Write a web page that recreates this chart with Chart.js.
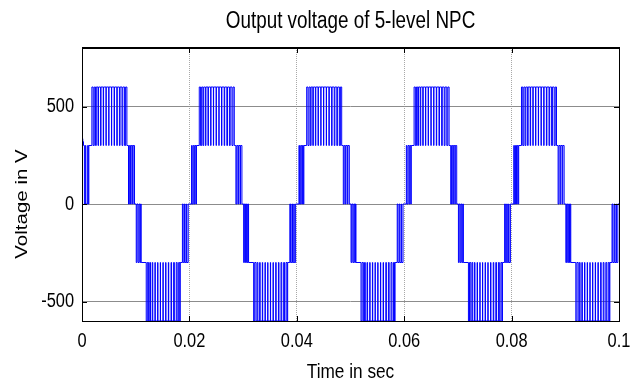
<!DOCTYPE html>
<html>
<head>
<meta charset="utf-8">
<script src="https://cdn.jsdelivr.net/npm/chart.js@4/dist/chart.umd.min.js"></script>
<style>
  html, body { margin: 0; padding: 0; background: #fff; }
  #wrap { width: 630px; height: 387px; }
</style>
</head>
<body>
<div id="wrap"><canvas id="c" width="630" height="387"></canvas></div>
<script>
// Start time of each 50 Hz period (s)
const cycleStarts = [0, 0.02, 0.04, 0.06, 0.08];

// Switching instants inside one period (ms from period start) and the level after each one (V)
const periodTimesMs = [
  0.00, 0.40, 0.52, 0.72, 0.92, 1.05, 1.22, 1.32,
  1.84, 2.08, 2.28, 2.52, 2.66, 2.98, 3.08, 3.46, 3.54, 3.96, 4.02, 4.47, 4.51, 4.98,
  5.02, 5.49, 5.53, 5.98, 6.05, 6.48, 6.57, 6.97, 7.09, 7.45, 7.60, 7.93, 8.12, 8.36,
  8.66, 8.82, 9.04, 9.16, 9.42, 9.52, 9.78,
  10.10, 10.24, 10.44, 10.62, 10.78, 10.92, 11.02,
  11.96, 12.16, 12.40, 12.62, 12.76, 13.08, 13.18, 13.58, 13.65, 14.08, 14.14, 14.58,
  14.62, 15.08, 15.12, 15.58, 15.63, 16.08, 16.15, 16.58, 16.68, 17.06, 17.20, 17.55,
  17.72, 18.00, 18.20, 18.30,
  18.70, 18.84, 19.08, 19.20, 19.44, 19.52, 19.78
];
const periodLevels = [
  0, 300, 0, 300, 0, 300, 0, 300,
  600, 300, 600, 300, 600, 300, 600, 300, 600, 300, 600, 300, 600, 300,
  600, 300, 600, 300, 600, 300, 600, 300, 600, 300, 600, 300, 600, 300,
  0, 300, 0, 300, 0, 300, 0,
  -300, 0, -300, 0, -300, 0, -300,
  -600, -300, -600, -300, -600, -300, -600, -300, -600, -300, -600, -300,
  -600, -300, -600, -300, -600, -300, -600, -300, -600, -300, -600, -300,
  -600, -300, -600, -300,
  0, -300, 0, -300, 0, -300, 0
];

// Start-up transient of the first period (ms, V), used before the first 300/600 band
const startupTimesMs = [0.00, 0.02, 0.15, 0.28, 0.45, 0.62, 0.72, 1.05, 1.18, 1.28];
const startupLevels  = [-70, 335, 320, 300, 0, 300, 0, 300, 0, 300];
const firstBandMs = 1.84;

const endTime = 0.1;

// Axis ticks and texts
const xTickValues = [0, 0.02, 0.04, 0.06, 0.08, 0.1];
const xTickLabels = ['0', '0.02', '0.04', '0.06', '0.08', '0.1'];
const yTickValues = [-500, 0, 500];
const yTickLabels = ['-500', '0', '500'];
const titleText = 'Output voltage of 5-level NPC';
const xTitleText = 'Time in sec';
const yTitleText = 'Voltage in V';

// Build the stepped series
const points = [];
cycleStarts.forEach((t0, k) => {
  if (k === 0) {
    startupTimesMs.forEach((ms, i) => points.push({ x: t0 + ms / 1000, y: startupLevels[i] }));
  }
  periodTimesMs.forEach((ms, i) => {
    if (k === 0 && ms < firstBandMs) return;
    points.push({ x: t0 + ms / 1000, y: periodLevels[i] });
  });
});
points.push({ x: endTime, y: 0 });

const FONT = "'Liberation Sans', Arial, sans-serif";
const SQUEEZE = 0.82; // condensed lettering

// Draws a horizontally condensed string anchored at (x, y)
function condensedText(ctx, text, x, y, size, align, rotate) {
  ctx.save();
  ctx.translate(x, y);
  ctx.scale(SQUEEZE, 1);
  if (rotate) ctx.rotate(-Math.PI / 2);
  ctx.font = size + 'px ' + FONT;
  ctx.fillStyle = '#000';
  ctx.textAlign = align;
  ctx.textBaseline = 'middle';
  ctx.fillText(text, 0, 0);
  ctx.restore();
}

// Axes box with inward tick marks, tick labels, axis titles and title
const frame = {
  id: 'frame',
  afterDatasetsDraw(chart) {
    const { ctx, chartArea: a, scales: { x, y } } = chart;
    ctx.save();
    ctx.fillStyle = '#000';
    const L = Math.round(a.left), R = Math.round(a.right), T = Math.round(a.top), B = Math.round(a.bottom);
    ctx.fillRect(L, T - 1, R - L + 1, 2);
    ctx.fillRect(L, B, R - L + 1, 1);
    ctx.fillRect(L, T, 1, B - T + 1);
    ctx.fillRect(R, T, 1, B - T + 1);
    const len = 5;
    xTickValues.forEach(v => {
      const px = Math.round(x.getPixelForValue(v));
      ctx.fillRect(px, T, 1, len);
      ctx.fillRect(px, B - len, 1, len);
    });
    yTickValues.forEach(v => {
      const py = Math.round(y.getPixelForValue(v));
      ctx.fillRect(L, py, len, 1);
      ctx.fillRect(R - len, py, len, 1);
    });
    ctx.restore();

    xTickValues.forEach((v, i) => condensedText(ctx, xTickLabels[i], x.getPixelForValue(v), B + 20, 20, 'center'));
    yTickValues.forEach((v, i) => condensedText(ctx, yTickLabels[i], L - 8, y.getPixelForValue(v), 20, 'right'));
    const cx = (L + R) / 2;
    condensedText(ctx, titleText, cx, 22, 23, 'center');
    condensedText(ctx, xTitleText, cx, 372, 21, 'center');
    condensedText(ctx, yTitleText, 22, 204, 20.5, 'center', true);
  }
};

new Chart(document.getElementById('c'), {
  type: 'line',
  data: {
    datasets: [{
      data: points,
      borderColor: '#0000ff',
      borderWidth: 1,
      pointRadius: 0,
      stepped: true,
      fill: false
    }]
  },
  options: {
    responsive: false,
    animation: false,
    events: [],
    layout: { padding: { left: 0, right: 11, top: 48, bottom: 0 } },
    plugins: {
      legend: { display: false },
      tooltip: { enabled: false },
      title: { display: false }
    },
    scales: {
      x: {
        type: 'linear',
        min: 0, max: 0.1,
        afterBuildTicks: s => { s.ticks = xTickValues.map(v => ({ value: v })); },
        afterFit: s => { s.height = 66; },
        ticks: { display: false },
        grid: {
          drawTicks: false,
          color: '#a8a8a8',
          lineWidth: 1
        },
        border: { display: false, dash: [1, 1] }
      },
      y: {
        type: 'linear',
        min: -600, max: 800,
        afterBuildTicks: s => { s.ticks = yTickValues.map(v => ({ value: v })); },
        afterFit: s => { s.width = 82; },
        ticks: { display: false },
        grid: {
          drawTicks: false,
          color: '#8c8c8c',
          lineWidth: 1
        },
        border: { display: false }
      }
    }
  },
  plugins: [frame]
});
</script>
</body>
</html>
